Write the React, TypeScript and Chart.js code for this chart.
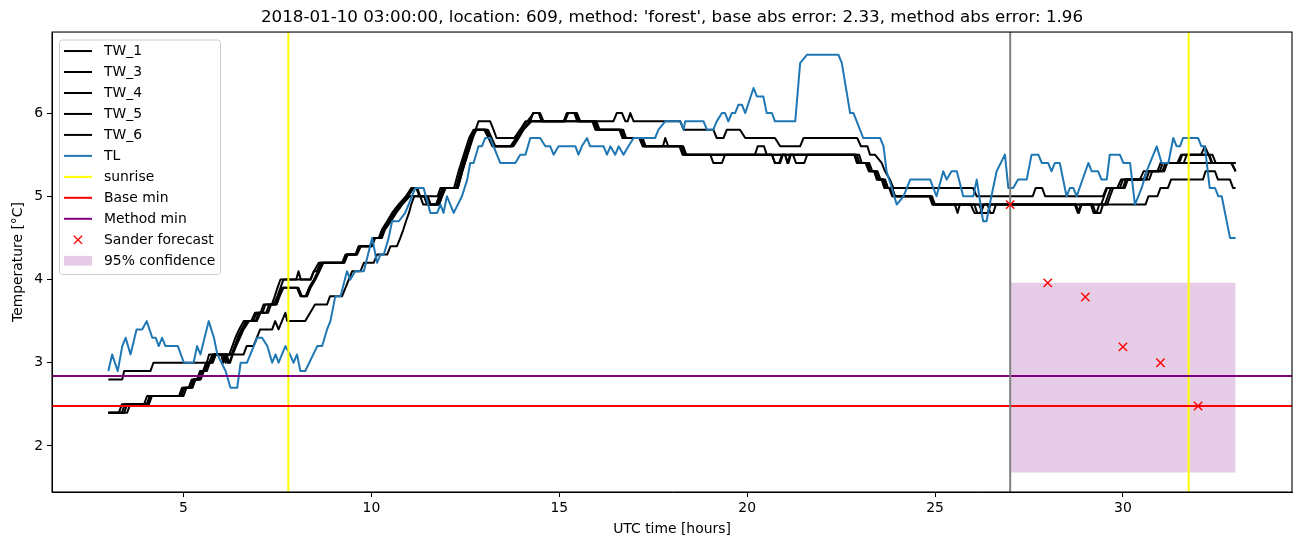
import { useEffect, useRef } from 'react';
import { Chart, registerables } from 'chart.js';

Chart.register(...registerables);

type Pt = [number, number];

const TITLE = "2018-01-10 03:00:00, location: 609, method: 'forest', base abs error: 2.33, method abs error: 1.96";
const X_LABEL = 'UTC time [hours]';
const Y_LABEL = 'Temperature [°C]';
const X_TICKS = [5, 10, 15, 20, 25, 30];
const Y_TICKS = [2, 3, 4, 5, 6];
const X_RANGE = [1.5, 34.5];
const Y_RANGE = [1.447, 6.973];

// water temperature sensors: [UTC hour, °C]
const TW_1: Pt[] = [[3.00,2.4],[3.28,2.4],[3.36,2.5],[3.95,2.5],[4.03,2.6],[4.88,2.6],[4.96,2.7],[5.14,2.7],[5.22,2.8],[5.36,2.8],[5.44,2.9],[5.52,2.9],[5.60,3.0],[5.68,3.0],[5.77,3.1],[6.00,3.1],[6.06,3.0],[6.12,3.1],[6.22,3.1],[6.30,3.2],[6.38,3.3],[6.48,3.4],[6.60,3.5],[6.85,3.5],[6.95,3.6],[7.10,3.6],[7.18,3.7],[7.35,3.7],[7.43,3.8],[7.50,3.9],[7.58,4.0],[8.00,4.0],[8.06,4.1],[8.12,4.0],[8.38,4.0],[8.47,4.1],[8.60,4.2],[9.22,4.2],[9.31,4.3],[9.60,4.3],[9.70,4.4],[9.97,4.4],[10.05,4.5],[10.20,4.5],[10.28,4.6],[10.42,4.7],[10.55,4.8],[10.72,4.9],[10.92,5.0],[11.06,5.1],[11.22,5.1],[11.30,5.0],[11.76,5.0],[11.84,5.1],[12.20,5.1],[12.32,5.3],[12.46,5.5],[12.60,5.7],[12.72,5.8],[13.00,5.8],[13.12,5.7],[13.22,5.6],[13.70,5.6],[13.85,5.7],[13.96,5.8],[14.10,5.9],[15.12,5.9],[15.22,6.0],[15.40,6.0],[15.48,5.9],[15.88,5.9],[15.96,5.8],[16.60,5.8],[16.68,5.7],[17.13,5.7],[17.22,5.6],[18.20,5.6],[18.28,5.5],[20.21,5.5],[20.28,5.6],[20.45,5.6],[20.52,5.5],[20.66,5.5],[20.74,5.4],[20.85,5.4],[20.93,5.5],[22.85,5.5],[22.92,5.4],[23.15,5.4],[23.24,5.3],[23.38,5.3],[23.45,5.2],[23.58,5.2],[23.65,5.1],[23.78,5.1],[23.86,5.0],[24.85,5.0],[24.93,4.9],[26.05,4.9],[26.12,4.8],[26.22,4.8],[26.30,4.9],[28.72,4.9],[28.80,4.8],[28.88,4.9],[29.42,4.9],[29.50,5.0],[29.58,5.1],[29.92,5.1],[30.00,5.2],[30.55,5.2],[30.63,5.3],[30.98,5.3],[31.06,5.4],[31.50,5.4],[31.58,5.5],[32.28,5.5],[32.36,5.4],[33.00,5.4]];

const TW_3: Pt[] = [[3.00,2.4],[3.36,2.4],[3.44,2.5],[4.02,2.5],[4.10,2.6],[4.95,2.6],[5.03,2.7],[5.20,2.7],[5.28,2.8],[5.42,2.8],[5.50,2.9],[5.58,2.9],[5.66,3.0],[5.74,3.0],[5.82,3.1],[6.05,3.1],[6.12,3.0],[6.18,3.1],[6.28,3.1],[6.36,3.2],[6.44,3.3],[6.54,3.4],[6.66,3.5],[6.80,3.5],[6.90,3.6],[7.05,3.6],[7.13,3.7],[7.40,3.7],[7.50,3.8],[7.58,3.9],[7.66,4.0],[8.38,4.0],[8.47,4.1],[8.55,4.1],[8.64,4.2],[9.25,4.2],[9.34,4.3],[9.58,4.3],[9.66,4.4],[10.00,4.4],[10.08,4.5],[10.25,4.5],[10.33,4.6],[10.48,4.7],[10.62,4.8],[10.78,4.9],[10.98,5.0],[11.12,5.1],[11.20,5.1],[11.28,5.0],[11.40,5.0],[11.48,4.9],[11.72,4.9],[11.80,5.0],[11.90,5.1],[12.25,5.1],[12.37,5.3],[12.50,5.5],[12.64,5.7],[12.76,5.8],[13.05,5.8],[13.16,5.7],[13.26,5.6],[13.74,5.6],[13.88,5.7],[14.01,5.8],[14.23,5.9],[14.30,6.0],[14.45,6.0],[14.53,5.9],[15.95,5.9],[16.03,5.8],[16.66,5.8],[16.74,5.7],[17.18,5.7],[17.26,5.6],[17.76,5.6],[17.82,5.7],[17.90,5.6],[18.26,5.6],[18.34,5.5],[19.02,5.5],[19.10,5.4],[19.33,5.4],[19.41,5.5],[21.01,5.5],[21.07,5.4],[21.10,5.4],[21.16,5.5],[22.92,5.5],[22.99,5.4],[23.20,5.4],[23.28,5.3],[23.42,5.3],[23.50,5.2],[23.62,5.2],[23.70,5.1],[23.82,5.1],[23.90,5.0],[24.88,5.0],[24.96,4.9],[25.53,4.9],[25.60,4.8],[25.66,4.9],[26.40,4.9],[26.47,4.8],[26.55,4.8],[26.62,4.9],[29.20,4.9],[29.27,4.8],[29.40,4.8],[29.47,4.9],[29.52,4.9],[29.60,5.0],[29.68,5.1],[30.00,5.1],[30.08,5.2],[30.62,5.2],[30.70,5.3],[31.05,5.3],[31.13,5.4],[33.00,5.4]];

const TW_4: Pt[] = [[3.00,2.4],[3.42,2.4],[3.50,2.5],[4.08,2.5],[4.16,2.6],[5.00,2.6],[5.08,2.7],[5.24,2.7],[5.32,2.8],[5.46,2.8],[5.54,2.9],[5.62,2.9],[5.70,3.0],[5.78,3.0],[5.86,3.1],[6.10,3.1],[6.17,3.0],[6.24,3.0],[6.31,3.1],[6.40,3.2],[6.50,3.3],[6.60,3.4],[6.74,3.5],[6.95,3.5],[7.05,3.6],[7.20,3.6],[7.28,3.7],[7.48,3.7],[7.56,3.8],[7.66,3.9],[8.06,3.9],[8.15,3.8],[8.29,3.8],[8.38,3.9],[8.51,4.0],[8.62,4.1],[8.72,4.2],[9.28,4.2],[9.37,4.3],[9.62,4.3],[9.72,4.4],[10.02,4.4],[10.10,4.5],[10.28,4.5],[10.36,4.6],[10.52,4.7],[10.66,4.8],[10.82,4.9],[11.02,5.0],[11.30,5.0],[11.38,4.9],[11.76,4.9],[11.84,5.0],[11.94,5.1],[12.30,5.1],[12.42,5.3],[12.55,5.5],[12.68,5.7],[12.80,5.8],[13.10,5.8],[13.20,5.7],[13.30,5.6],[13.78,5.6],[13.92,5.7],[14.05,5.8],[14.26,5.9],[15.99,5.9],[16.07,5.8],[16.70,5.8],[16.78,5.7],[17.22,5.7],[17.30,5.6],[18.30,5.6],[18.38,5.5],[21.22,5.5],[21.30,5.4],[21.52,5.4],[21.60,5.5],[22.98,5.5],[23.05,5.4],[23.25,5.4],[23.33,5.3],[23.47,5.3],[23.55,5.2],[23.67,5.2],[23.75,5.1],[23.86,5.1],[23.94,5.0],[24.92,5.0],[25.00,4.9],[26.18,4.9],[26.25,4.8],[26.40,4.8],[26.48,4.9],[29.15,4.9],[29.22,4.8],[29.30,4.8],[29.37,4.9],[29.58,4.9],[29.66,5.0],[29.74,5.1],[30.05,5.1],[30.13,5.2],[30.70,5.2],[30.78,5.3],[31.10,5.3],[31.18,5.4],[31.62,5.4],[31.70,5.5],[32.30,5.5],[32.38,5.4],[32.90,5.4],[33.00,5.3]];

const TW_5: Pt[] = [[3.00,2.4],[3.50,2.4],[3.58,2.5],[4.05,2.5],[4.14,2.6],[4.92,2.6],[5.00,2.7],[5.18,2.7],[5.26,2.8],[5.40,2.8],[5.48,2.9],[5.56,2.9],[5.64,3.0],[5.72,3.0],[5.80,3.1],[6.14,3.1],[6.22,3.0],[6.30,3.1],[6.38,3.2],[6.46,3.3],[6.56,3.4],[6.70,3.5],[6.92,3.5],[7.00,3.6],[7.25,3.6],[7.33,3.7],[7.45,3.7],[7.53,3.8],[7.62,3.9],[8.02,3.9],[8.11,3.8],[8.25,3.8],[8.34,3.9],[8.47,4.0],[8.58,4.1],[8.68,4.2],[9.26,4.2],[9.35,4.3],[9.58,4.3],[9.68,4.4],[9.99,4.4],[10.07,4.5],[10.24,4.5],[10.32,4.6],[10.47,4.7],[10.60,4.8],[10.77,4.9],[10.97,5.0],[11.10,5.1],[11.20,5.1],[11.28,5.0],[11.45,5.0],[11.53,4.9],[11.80,4.9],[11.88,5.0],[11.98,5.1],[12.28,5.1],[12.40,5.3],[12.53,5.5],[12.66,5.7],[12.78,5.8],[13.05,5.8],[13.14,5.7],[13.24,5.6],[13.76,5.6],[13.90,5.7],[14.03,5.8],[14.24,5.9],[15.15,5.9],[15.24,6.0],[15.44,6.0],[15.52,5.9],[15.91,5.9],[15.99,5.8],[16.62,5.8],[16.71,5.7],[17.15,5.7],[17.24,5.6],[18.22,5.6],[18.31,5.5],[20.66,5.5],[20.74,5.4],[20.88,5.4],[20.95,5.5],[21.01,5.5],[21.08,5.4],[21.14,5.5],[22.87,5.5],[22.94,5.4],[23.18,5.4],[23.27,5.3],[23.40,5.3],[23.47,5.2],[23.60,5.2],[23.67,5.1],[23.80,5.1],[23.89,5.0],[24.87,5.0],[24.95,4.9],[25.95,4.9],[26.05,4.8],[26.20,4.8],[26.28,4.9],[28.75,4.9],[28.83,4.8],[28.90,4.9],[30.60,4.9],[30.68,5.0],[30.92,5.0],[31.00,5.1],[31.20,5.1],[31.28,5.2],[32.13,5.2],[32.20,5.3],[32.45,5.3],[32.53,5.2],[32.85,5.2],[32.93,5.1],[33.00,5.1]];

const TW_6: Pt[] = [[3.00,2.8],[3.37,2.8],[3.42,2.9],[4.12,2.9],[4.20,3.0],[5.62,3.0],[5.68,3.1],[6.60,3.1],[6.68,3.2],[6.86,3.2],[6.95,3.3],[7.04,3.4],[7.36,3.4],[7.44,3.5],[7.53,3.4],[7.62,3.5],[7.71,3.6],[7.76,3.5],[8.24,3.5],[8.37,3.6],[8.50,3.7],[8.82,3.7],[8.90,3.8],[9.22,3.8],[9.31,3.9],[9.40,4.0],[9.49,4.1],[9.71,4.1],[9.80,4.2],[10.06,4.2],[10.15,4.3],[10.42,4.3],[10.51,4.4],[10.68,4.4],[10.77,4.5],[10.85,4.6],[10.92,4.7],[11.00,4.8],[11.06,4.9],[11.14,5.0],[11.50,5.0],[11.58,4.9],[11.80,4.9],[11.88,5.0],[11.96,5.1],[12.30,5.1],[12.42,5.3],[12.56,5.5],[12.70,5.7],[12.85,5.9],[13.16,5.9],[13.25,5.8],[13.33,5.7],[13.80,5.7],[13.96,5.8],[14.15,5.9],[14.32,6.0],[14.49,6.0],[14.58,5.9],[15.12,5.9],[15.20,6.0],[15.47,6.0],[15.56,5.9],[16.44,5.9],[16.53,6.0],[16.67,6.0],[16.76,5.9],[16.82,5.9],[16.89,6.0],[16.98,5.9],[18.22,5.9],[18.31,5.8],[19.10,5.8],[19.19,5.7],[19.37,5.7],[19.46,5.8],[19.81,5.8],[19.95,5.7],[20.74,5.7],[20.88,5.6],[21.41,5.6],[21.50,5.7],[22.93,5.7],[23.03,5.6],[23.20,5.6],[23.27,5.5],[23.40,5.5],[23.58,5.4],[23.67,5.3],[23.80,5.2],[23.89,5.1],[26.01,5.1],[26.11,5.0],[27.60,5.0],[27.68,5.1],[27.85,5.1],[27.93,5.0],[29.47,5.0],[29.56,5.1],[29.85,5.1],[29.95,5.2],[30.45,5.2],[30.55,5.3],[30.92,5.3],[31.00,5.4],[31.45,5.4],[31.55,5.5],[32.08,5.5],[32.18,5.6],[32.28,5.5],[32.38,5.5],[32.47,5.4],[32.88,5.4],[33.00,5.3]];

// air temperature: [UTC hour, °C]
const TL: Pt[] = [[3.00,2.9],[3.10,3.1],[3.25,2.9],[3.37,3.2],[3.46,3.3],[3.59,3.1],[3.75,3.4],[3.90,3.4],[4.02,3.5],[4.17,3.3],[4.26,3.3],[4.34,3.2],[4.43,3.3],[4.52,3.2],[4.85,3.2],[5.01,3.0],[5.27,3.0],[5.36,3.2],[5.45,3.1],[5.67,3.5],[5.81,3.3],[5.90,3.1],[6.12,2.9],[6.25,2.7],[6.43,2.7],[6.52,3.0],[6.69,3.0],[6.96,3.3],[7.09,3.3],[7.23,3.2],[7.36,3.0],[7.45,3.1],[7.53,3.0],[7.71,3.2],[7.83,3.1],[7.93,3.0],[8.02,3.1],[8.11,2.9],[8.24,2.9],[8.56,3.2],[8.69,3.2],[8.82,3.4],[8.91,3.5],[9.04,3.8],[9.18,3.8],[9.35,4.1],[9.44,4.0],[9.57,4.1],[9.80,4.1],[10.02,4.5],[10.15,4.2],[10.24,4.3],[10.33,4.3],[10.46,4.5],[10.55,4.7],[10.73,4.7],[10.90,4.8],[11.17,5.1],[11.39,5.1],[11.57,4.8],[11.75,4.8],[11.84,4.9],[11.92,4.8],[12.01,5.0],[12.19,4.8],[12.41,5.0],[12.55,5.2],[12.63,5.4],[12.72,5.4],[12.85,5.6],[12.94,5.6],[13.03,5.7],[13.16,5.7],[13.43,5.4],[13.83,5.4],[13.96,5.5],[14.10,5.5],[14.23,5.7],[14.49,5.7],[14.63,5.6],[14.76,5.6],[14.85,5.5],[14.98,5.6],[15.43,5.6],[15.51,5.5],[15.60,5.6],[15.74,5.7],[15.82,5.6],[16.18,5.6],[16.27,5.5],[16.36,5.6],[16.49,5.5],[16.58,5.6],[16.71,5.5],[16.84,5.6],[16.98,5.7],[17.55,5.7],[17.64,5.8],[17.82,5.9],[18.22,5.9],[18.31,5.8],[18.35,5.9],[18.84,5.9],[18.93,5.8],[19.10,5.8],[19.19,5.9],[19.33,6.0],[19.41,6.0],[19.50,5.9],[19.59,6.0],[19.68,6.0],[19.77,6.1],[19.86,6.1],[19.95,6.0],[20.17,6.3],[20.26,6.2],[20.43,6.2],[20.52,6.0],[20.66,6.0],[20.74,5.9],[21.28,5.9],[21.41,6.6],[21.59,6.7],[22.43,6.7],[22.52,6.6],[22.74,6.0],[22.83,6.0],[23.09,5.7],[23.54,5.7],[23.63,5.6],[23.71,5.3],[23.85,5.1],[23.98,4.9],[24.16,5.0],[24.34,5.2],[24.87,5.2],[25.04,5.0],[25.22,5.3],[25.31,5.2],[25.44,5.3],[25.58,5.3],[25.75,5.0],[26.02,5.0],[26.11,5.2],[26.28,4.7],[26.37,4.7],[26.50,5.0],[26.64,5.3],[26.86,5.5],[26.95,5.1],[27.08,5.1],[27.21,5.2],[27.44,5.2],[27.57,5.5],[27.75,5.5],[27.84,5.4],[28.01,5.4],[28.10,5.3],[28.19,5.4],[28.32,5.4],[28.50,5.0],[28.59,5.1],[28.68,5.1],[28.77,5.0],[29.08,5.4],[29.17,5.3],[29.34,5.3],[29.43,5.2],[29.57,5.2],[29.65,5.5],[29.92,5.5],[30.01,5.4],[30.19,5.4],[30.32,4.9],[30.50,5.1],[30.63,5.3],[30.90,5.6],[31.03,5.4],[31.21,5.4],[31.34,5.7],[31.43,5.6],[31.52,5.6],[31.60,5.7],[32.00,5.7],[32.09,5.6],[32.18,5.6],[32.31,5.1],[32.45,5.1],[32.54,5.0],[32.63,5.0],[32.85,4.5],[33.00,4.5]];

const SUNRISE_HOURS = [7.79, 31.75];
const FORECAST_START_HOUR = 27;
const BASE_MIN = 2.48;
const METHOD_MIN = 2.84;
const FORECAST_HOURS = [27, 28, 29, 30, 31, 32];
const FORECAST_TEMPS = [4.9, 3.96, 3.79, 3.19, 3.0, 2.48];
const CONF_HOURS = [27, 33];
const CONF_LOW = 1.68;
const CONF_HIGH = 3.96;

const FONT = 'DejaVu Sans';
const BLUE = '#1f77b4';
const CONF_FILL = 'rgba(128,0,128,0.2)';

type LegendItem = { label: string; kind: 'line' | 'marker' | 'patch'; color: string };
const LEGEND_ITEMS: LegendItem[] = [
  { label: 'TW_1', kind: 'line', color: '#000000' },
  { label: 'TW_3', kind: 'line', color: '#000000' },
  { label: 'TW_4', kind: 'line', color: '#000000' },
  { label: 'TW_5', kind: 'line', color: '#000000' },
  { label: 'TW_6', kind: 'line', color: '#000000' },
  { label: 'TL', kind: 'line', color: BLUE },
  { label: 'sunrise', kind: 'line', color: '#ffff00' },
  { label: 'Base min', kind: 'line', color: '#ff0000' },
  { label: 'Method min', kind: 'line', color: '#800080' },
  { label: 'Sander forecast', kind: 'marker', color: '#ff0000' },
  { label: '95% confidence', kind: 'patch', color: CONF_FILL },
];

const toXY = (pts: Pt[]) => pts.map(([x, y]) => ({ x, y }));

const framePlugin = {
  id: 'frame',
  afterDatasetsDraw(chart: any) {
    const { ctx, chartArea: a } = chart;
    ctx.save();
    ctx.strokeStyle = '#000';
    ctx.lineWidth = 1.1;
    ctx.strokeRect(a.left, a.top, a.right - a.left, a.bottom - a.top);
    ctx.restore();
  },
};

const legendPlugin = {
  id: 'mplLegend',
  afterDraw(chart: any) {
    const { ctx, chartArea: a } = chart;
    const left = a.left + 7;
    const top = a.top + 7.5;
    const w = 161;
    const h = 234.5;
    const rowH = 20.97;
    ctx.save();
    ctx.beginPath();
    if (ctx.roundRect) ctx.roundRect(left + 0.5, top + 0.5, w, h, 3);
    else ctx.rect(left + 0.5, top + 0.5, w, h);
    ctx.fillStyle = 'rgba(255,255,255,0.8)';
    ctx.fill();
    ctx.strokeStyle = '#cccccc';
    ctx.lineWidth = 1;
    ctx.stroke();
    ctx.font = `13.9px "${FONT}"`;
    ctx.textBaseline = 'middle';
    ctx.textAlign = 'left';
    LEGEND_ITEMS.forEach((it, i) => {
      const y = top + 11.5 + i * rowH;
      const hx0 = left + 5;
      const hx1 = left + 33;
      if (it.kind === 'line') {
        ctx.beginPath();
        ctx.moveTo(hx0, y);
        ctx.lineTo(hx1, y);
        ctx.strokeStyle = it.color;
        ctx.lineWidth = 2;
        ctx.stroke();
      } else if (it.kind === 'marker') {
        const cx = (hx0 + hx1) / 2;
        const r = 4.1;
        ctx.beginPath();
        ctx.moveTo(cx - r, y - r);
        ctx.lineTo(cx + r, y + r);
        ctx.moveTo(cx - r, y + r);
        ctx.lineTo(cx + r, y - r);
        ctx.strokeStyle = it.color;
        ctx.lineWidth = 1.4;
        ctx.stroke();
      } else {
        ctx.fillStyle = it.color;
        ctx.fillRect(hx0, y - 4.85, hx1 - hx0, 9.7);
      }
      ctx.fillStyle = '#000';
      ctx.fillText(it.label, left + 45, y + 0.5);
    });
    ctx.restore();
  },
};

export default function App() {
  const ref = useRef<HTMLCanvasElement | null>(null);

  useEffect(() => {
    if (!ref.current) return;
    const lineBase = {
      borderWidth: 2,
      pointRadius: 0,
      fill: false,
      borderJoinStyle: 'round' as const,
      borderCapStyle: 'butt' as const,
      tension: 0,
    };
    const twSeries: [string, Pt[]][] = [
      ['TW_1', TW_1],
      ['TW_3', TW_3],
      ['TW_4', TW_4],
      ['TW_5', TW_5],
      ['TW_6', TW_6],
    ];
    const datasets: any[] = [];
    twSeries.forEach(([label, pts], i) => {
      datasets.push({ ...lineBase, label, data: toXY(pts), borderColor: '#000000', order: 60 - i });
    });
    datasets.push({ ...lineBase, label: 'TL', data: toXY(TL), borderColor: BLUE, order: 50 });
    SUNRISE_HOURS.forEach((h, i) => {
      datasets.push({
        ...lineBase,
        label: i === 0 ? 'sunrise' : 'sunrise_2',
        data: [{ x: h, y: Y_RANGE[0] }, { x: h, y: Y_RANGE[1] }],
        borderColor: '#ffff00',
        order: 40,
      });
    });
    datasets.push({
      ...lineBase,
      label: 'Base min',
      data: [{ x: X_RANGE[0], y: BASE_MIN }, { x: X_RANGE[1], y: BASE_MIN }],
      borderColor: '#ff0000',
      order: 39,
    });
    datasets.push({
      ...lineBase,
      label: 'Method min',
      data: [{ x: X_RANGE[0], y: METHOD_MIN }, { x: X_RANGE[1], y: METHOD_MIN }],
      borderColor: '#800080',
      order: 38,
    });
    datasets.push({
      ...lineBase,
      label: 'forecast start',
      data: [{ x: FORECAST_START_HOUR, y: Y_RANGE[0] }, { x: FORECAST_START_HOUR, y: Y_RANGE[1] }],
      borderColor: '#808080',
      order: 37,
    });
    datasets.push({
      label: 'Sander forecast',
      data: FORECAST_HOURS.map((h, i) => ({ x: h, y: FORECAST_TEMPS[i] })),
      showLine: false,
      pointStyle: 'crossRot',
      pointRadius: 5.9,
      pointBorderWidth: 1.4,
      pointBorderColor: '#ff0000',
      pointBackgroundColor: '#ff0000',
      borderColor: '#ff0000',
      order: 10,
    });
    datasets.push({
      label: '95% confidence',
      data: CONF_HOURS.map((h) => ({ x: h, y: CONF_HIGH })),
      borderWidth: 0,
      borderColor: 'rgba(0,0,0,0)',
      pointRadius: 0,
      backgroundColor: CONF_FILL,
      fill: { value: CONF_LOW },
      tension: 0,
      order: 100,
    });

    const tickFont = { family: FONT, size: 13.9 };
    const chart = new Chart(ref.current, {
      type: 'line',
      data: { datasets },
      options: {
        animation: false,
        responsive: false,
        events: [],
        layout: { padding: { left: 0, right: 10, top: 0, bottom: 0 } },
        plugins: {
          legend: { display: false },
          tooltip: { enabled: false },
          title: {
            display: true,
            text: TITLE,
            fullSize: false,
            color: '#000',
            font: { family: FONT, size: 16.7, weight: 'normal', lineHeight: 1.2 },
            padding: { top: 8, bottom: 4 },
          },
        },
        scales: {
          x: {
            type: 'linear',
            min: X_RANGE[0],
            max: X_RANGE[1],
            afterBuildTicks: (s: any) => {
              s.ticks = X_TICKS.map((v) => ({ value: v }));
            },
            afterFit: (s: any) => {
              s.height = 55;
            },
            ticks: { font: tickFont, color: '#000', padding: 3, maxRotation: 0, autoSkip: false },
            grid: { drawOnChartArea: false, drawTicks: true, tickLength: 5, color: '#000', lineWidth: 1 },
            border: { display: true, color: '#000', width: 1 },
            title: { display: true, text: X_LABEL, color: '#000', font: { family: FONT, size: 13.9 }, padding: { top: 0, bottom: 9.7 } },
          },
          y: {
            type: 'linear',
            min: Y_RANGE[0],
            max: Y_RANGE[1],
            afterBuildTicks: (s: any) => {
              s.ticks = Y_TICKS.map((v) => ({ value: v }));
            },
            afterFit: (s: any) => {
              s.width = 52;
            },
            ticks: { font: tickFont, color: '#000', padding: 4, autoSkip: false },
            grid: { drawOnChartArea: false, drawTicks: true, tickLength: 5, color: '#000', lineWidth: 1 },
            border: { display: true, color: '#000', width: 1 },
            title: { display: true, text: Y_LABEL, color: '#000', font: { family: FONT, size: 13.9 }, padding: { top: 9.6, bottom: 0 } },
          },
        },
      } as any,
      plugins: [framePlugin, legendPlugin],
    });
    return () => chart.destroy();
  }, []);

  return (
    <div style={{ position: 'absolute', left: 0, top: 0, width: 1302, height: 547, background: '#fff' }}>
      <canvas ref={ref} width={1302} height={547} style={{ display: 'block' }} />
    </div>
  );
}
